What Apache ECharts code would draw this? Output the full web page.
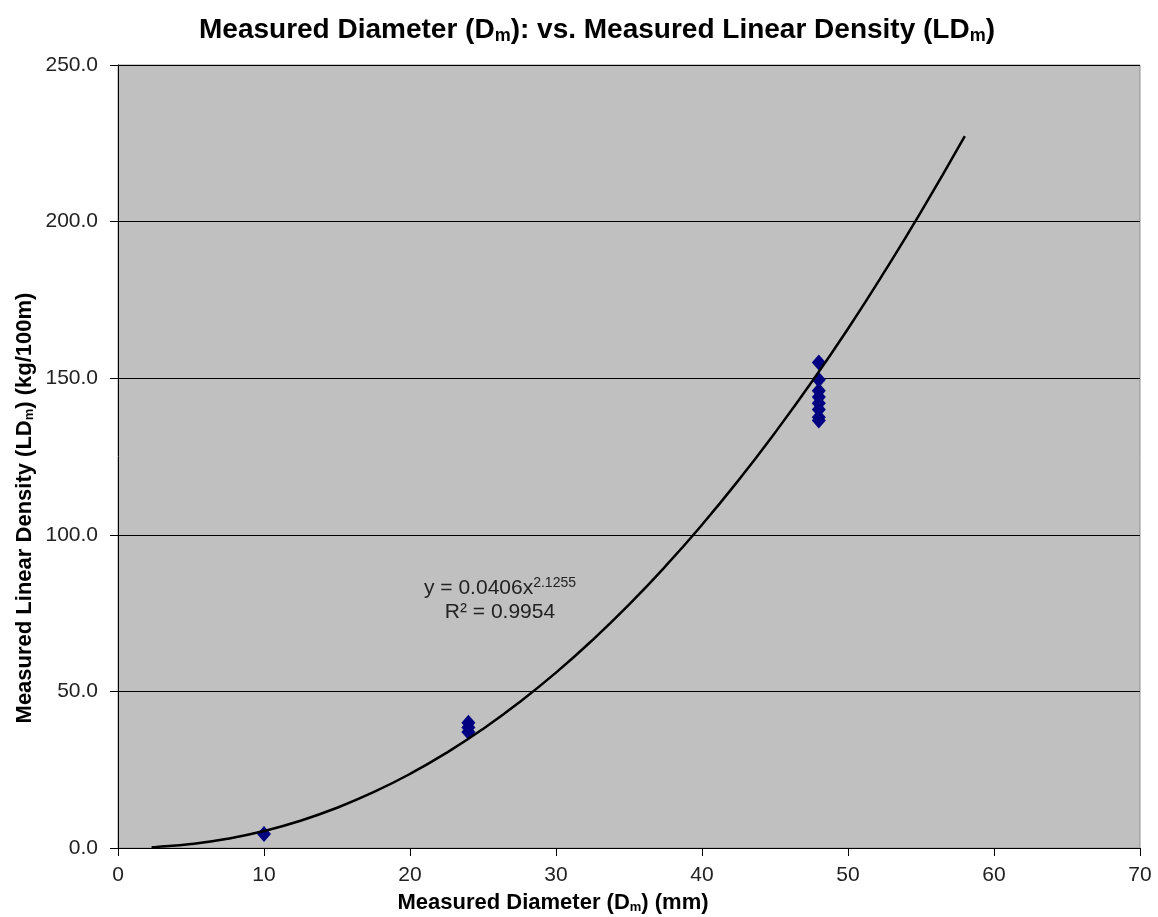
<!DOCTYPE html>
<html>
<head>
<meta charset="utf-8">
<script src="https://cdn.jsdelivr.net/npm/echarts@6/dist/echarts.min.js"></script>
<style>html,body{margin:0;padding:0;background:#fff;}#c{width:1158px;height:917px;}</style>
</head>
<body>
<div id="c"></div>
<script>
// Measured points [diameter mm, linear density kg/100m]
var measuredPoints = [
  [10, 4.5],
  [24, 40.0], [24, 38.5], [24, 37.0],
  [48, 155.0], [48, 149.5], [48, 146.0], [48, 144.0], [48, 142.0], [48, 140.0], [48, 137.5], [48, 136.5]
];
// Power trendline as drawn (y = 0.0406x^2.1255)
var trendX = [2.3, 2.5, 5, 7.5, 10, 12.5, 15, 17.5, 20, 22.5, 25, 27.5, 30, 32.5, 35, 37.5, 40, 42.5, 45, 47.5, 50, 52.5, 55, 58];
var trendY = [0.24, 0.28, 1.24, 2.94, 5.42, 8.71, 12.84, 17.81, 23.65, 30.38, 38.01, 46.54, 56.0, 66.38, 77.7, 89.97, 103.2, 117.4, 132.6, 148.7, 165.8, 184.0, 203.1, 227.3];
var xTicks = [0, 10, 20, 30, 40, 50, 60, 70];
var yTicks = [0, 50, 100, 150, 200, 250];

var trendData = trendX.map(function (x, i) { return [x, trendY[i]]; });
var font = '"Liberation Sans", Arial, sans-serif';
var nameRich = {
  t: { fontFamily: font, fontWeight: 'bold', fontSize: 22, fill: '#000', color: '#000' },
  s: { fontFamily: font, fontWeight: 'bold', fontSize: 13, fill: '#000', color: '#000', verticalAlign: 'bottom', padding: [8, 0, 0, 0] }
};
var chart = echarts.init(document.getElementById('c'));
chart.setOption({
  animation: false,
  backgroundColor: '#ffffff',
  title: {
    text: '{t|Measured Diameter (D}{s|m}{t|): vs. Measured Linear Density (LD}{s|m}{t|)}',
    left: 592, top: 11, textAlign: 'center',
    textStyle: {
      rich: {
        t: { fontFamily: font, fontWeight: 'bold', fontSize: 28, color: '#000' },
        s: { fontFamily: font, fontWeight: 'bold', fontSize: 18, color: '#000', verticalAlign: 'bottom', padding: [11, 0, 0, 0] }
      }
    }
  },
  grid: {
    left: 118, right: 18, top: 65, bottom: 69,
    show: true, backgroundColor: '#C0C0C0', borderColor: '#909090', borderWidth: 1
  },
  xAxis: {
    type: 'value', min: xTicks[0], max: xTicks[xTicks.length - 1], interval: 10,
    axisLine: { onZero: false, lineStyle: { color: '#000', width: 1 } },
    axisTick: { show: true, inside: false, length: 8, lineStyle: { color: '#000' } },
    axisLabel: { fontFamily: font, fontSize: 21, color: '#222', margin: 17 },
    splitLine: { show: false }
  },
  yAxis: {
    type: 'value', min: yTicks[0], max: yTicks[yTicks.length - 1], interval: 50,
    axisLine: { show: true, onZero: false, lineStyle: { color: '#000', width: 1 } },
    axisTick: { show: true, inside: false, length: 8, lineStyle: { color: '#000' } },
    axisLabel: { fontFamily: font, fontSize: 21, color: '#222', margin: 20, formatter: function (v) { return v.toFixed(1); } },
    splitLine: { show: true, lineStyle: { color: '#000', width: 1 } }
  },
  graphic: [{
    type: 'text', x: 553, y: 903, z: 100,
    style: {
      text: '{t|Measured Diameter (D}{s|m}{t|) (mm)}',
      align: 'center', verticalAlign: 'middle', rich: nameRich
    }
  }, {
    type: 'text', x: 25, y: 508, rotation: Math.PI / 2, z: 100,
    style: {
      text: '{t|Measured Linear Density (LD}{s|m}{t|) (kg/100m)}',
      align: 'center', verticalAlign: 'middle', rich: nameRich
    }
  }, {
    type: 'text', x: 500, y: 600, z: 100,
    style: {
      text: '{a|y = 0.0406x}{b|2.1255}\n{a|R² = 0.9954}',
      align: 'center', verticalAlign: 'middle',
      rich: {
        a: { fontFamily: font, fontSize: 21, fill: '#222', lineHeight: 24 },
        b: { fontFamily: font, fontSize: 14, fill: '#222', verticalAlign: 'top', lineHeight: 24, padding: [0, 0, 8, 0] }
      }
    }
  }],
  series: [{
    type: 'line', data: trendData, smooth: true, symbol: 'none',
    lineStyle: { color: '#000', width: 2.5 }, z: 3
  }, {
    type: 'scatter', data: measuredPoints, symbol: 'diamond', symbolSize: [14, 16],
    itemStyle: { color: '#000080', opacity: 1 }, z: 2
  }]
});
</script>
</body>
</html>
